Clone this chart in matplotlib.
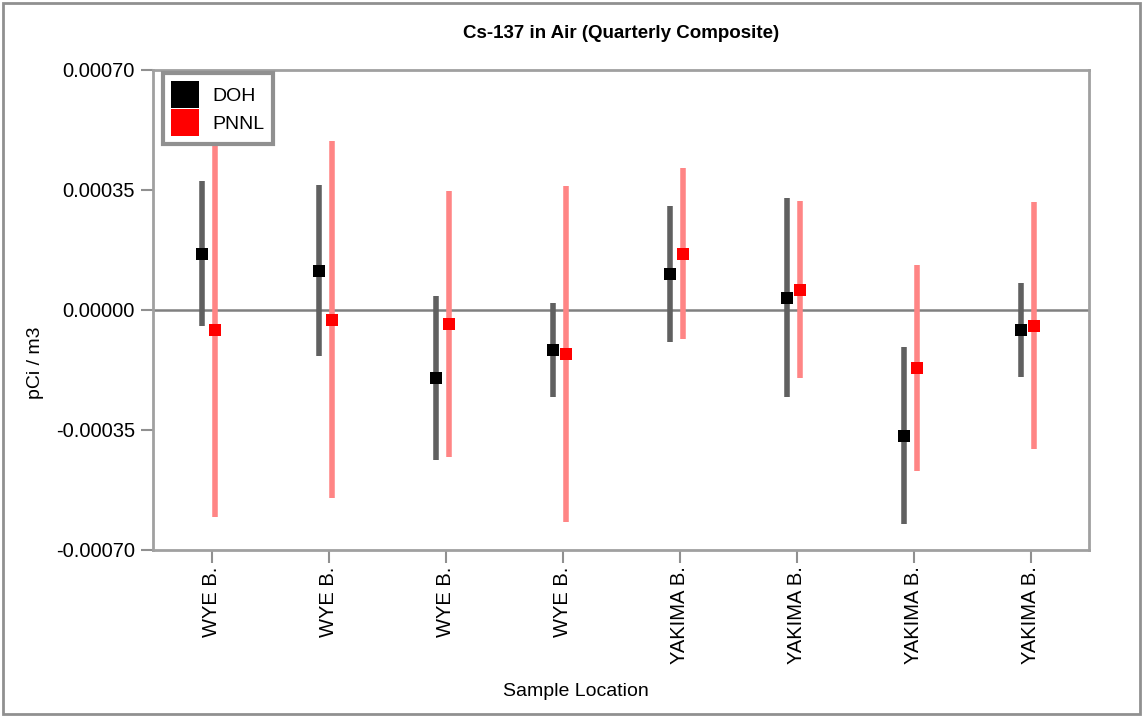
import numpy as np
import matplotlib.pyplot as plt
from matplotlib.patches import Patch, Rectangle
from matplotlib.ticker import FixedLocator, FuncFormatter

plt.rcParams['font.family'] = ['Liberation Sans', 'DejaVu Sans']

locations = ["WYE B.", "WYE B.", "WYE B.", "WYE B.",
             "YAKIMA B.", "YAKIMA B.", "YAKIMA B.", "YAKIMA B."]

doh_val = [1.63e-4, 1.135e-4, -1.99e-4, -1.17e-4, 1.04e-4, 3.5e-5, -3.665e-4, -5.9e-5]
doh_err = [2.11e-4, 2.49e-4, 2.40e-4, 1.37e-4, 1.99e-4, 2.90e-4, 2.58e-4, 1.38e-4]

pnnl_val = [-5.8e-5, -2.9e-5, -4.1e-5, -1.29e-4, 1.63e-4, 5.8e-5, -1.70e-4, -4.6e-5]
pnnl_err = [5.45e-4, 5.20e-4, 3.88e-4, 4.90e-4, 2.49e-4, 2.58e-4, 2.99e-4, 3.60e-4]

x = np.arange(len(locations))

fig = plt.figure(figsize=(11.43, 7.17), dpi=100)
ax = fig.add_axes([0.134, 0.233, 0.819, 0.670])

# error bars (no caps) then square markers
ax.vlines(x - 0.083, np.array(doh_val) - doh_err, np.array(doh_val) + doh_err,
          color='#606060', lw=4, zorder=2)
ax.vlines(x + 0.026, np.array(pnnl_val) - pnnl_err, np.array(pnnl_val) + pnnl_err,
          color='#ff8585', lw=4, zorder=2)
ax.plot(x - 0.083, doh_val, 's', color='black', ms=8, mew=0, zorder=4)
ax.plot(x + 0.026, pnnl_val, 's', color='red', ms=8, mew=0, zorder=4)

ax.axhline(0, color='#808080', lw=1.8, zorder=1)

ax.set_xlim(-0.5, len(locations) - 0.5)
ax.set_ylim(-0.0007, 0.0007)
ax.yaxis.set_major_locator(FixedLocator([-0.0007, -0.00035, 0, 0.00035, 0.0007]))
ax.yaxis.set_major_formatter(FuncFormatter(lambda v, p: f"{v:.5f}"))
ax.set_xticks(x)
ax.set_xticklabels(locations, rotation=90, fontsize=14.5)
ax.tick_params(axis='y', labelsize=14.5, length=9, width=1.5, color='#909090', pad=4)
ax.tick_params(axis='x', length=9, width=1.5, color='#909090', pad=3)

for s in ax.spines.values():
    s.set_color('#a0a0a0')
    s.set_linewidth(2)

fig.text(0.543, 0.953, "Cs-137 in Air (Quarterly Composite)", ha='center', va='center',
         fontsize=13.5, fontweight='bold')
fig.text(0.031, 0.494, "pCi / m3", rotation=90, ha='center', va='center', fontsize=14)
fig.text(0.504, 0.036, "Sample Location", ha='center', va='center', fontsize=14)

handles = [Patch(facecolor='black', edgecolor='none'), Patch(facecolor='red', edgecolor='none')]
leg = ax.legend(handles, ["DOH", "PNNL"], loc='upper left', bbox_to_anchor=(0.0107, 0.9925),
                fontsize=14, handlelength=1.45, handleheight=1.75, labelspacing=0.08,
                handletextpad=0.7, borderpad=0.4, borderaxespad=0, fancybox=False,
                framealpha=1)
leg.get_frame().set_edgecolor('#909090')
leg.get_frame().set_linewidth(3)
# widen the frame a little on the right, as in the original legend box
fig.canvas.draw()
bb = leg.get_frame().get_bbox()
leg.get_frame().set_width(bb.width + 12)

fig.patches.append(Rectangle((0.003, 0.004), 0.994, 0.992, transform=fig.transFigure,
                             fill=False, edgecolor='#909090', lw=2))

fig.savefig('out.png', dpi=100)
